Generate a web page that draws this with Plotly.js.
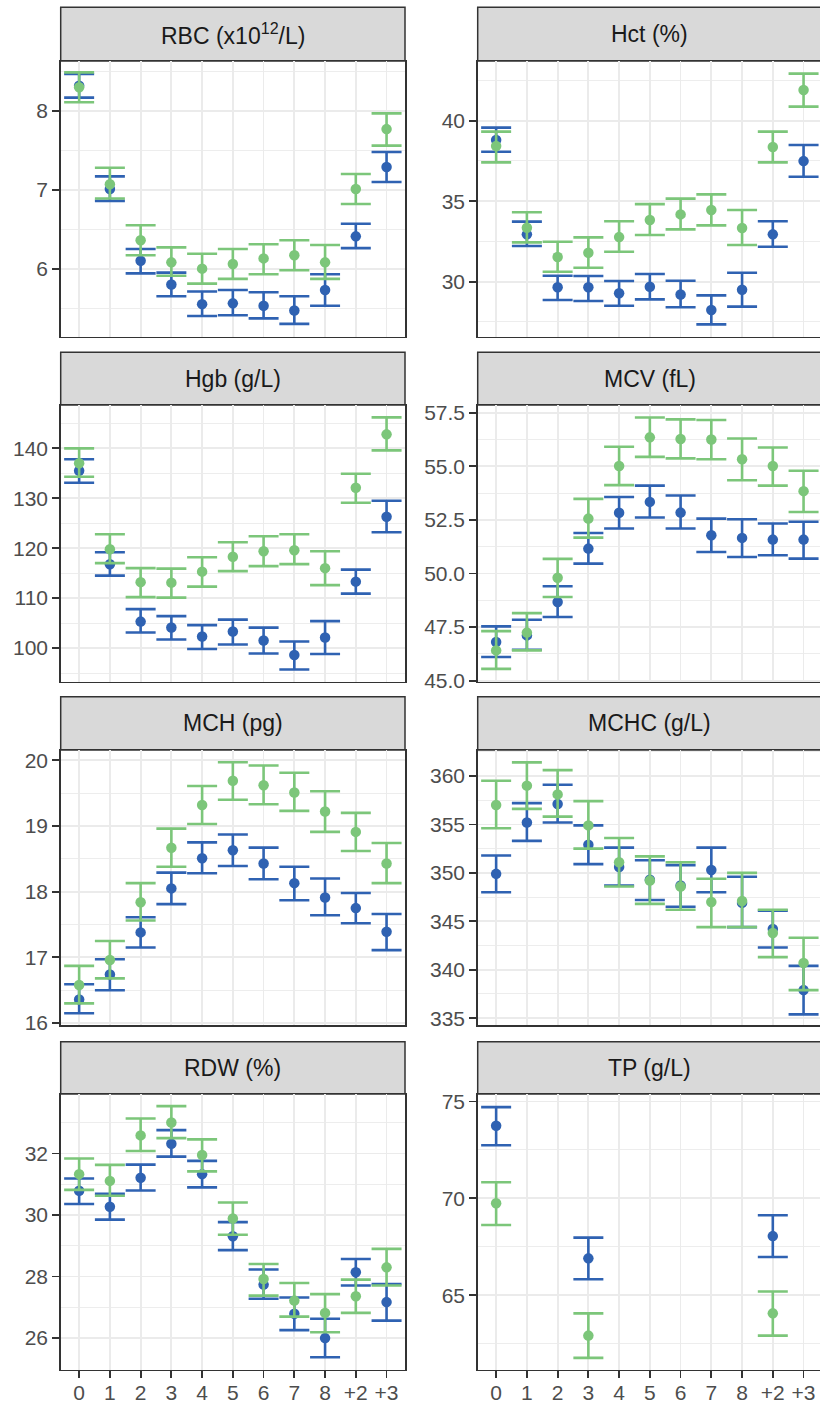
<!DOCTYPE html>
<html>
<head>
<meta charset="utf-8">
<script src="https://cdn.plot.ly/plotly-3.0.1.min.js"></script>
<style>
html,body{margin:0;padding:0;overflow:hidden;background:#fff;}
#chart{width:824px;height:1405px;}
</style>
</head>
<body>
<div id="chart"></div>
<script>
// ---------- data ----------
const categories = ["0","1","2","3","4","5","6","7","8","+2","+3"];

const rbcBlue    = [8.32, 7.01, 6.10, 5.80, 5.55, 5.56, 5.53, 5.47, 5.73, 6.41, 7.29];
const rbcBlueHi  = [8.47, 7.17, 6.25, 5.95, 5.71, 5.73, 5.70, 5.65, 5.93, 6.57, 7.48];
const rbcBlueLo  = [8.17, 6.86, 5.94, 5.65, 5.40, 5.41, 5.37, 5.30, 5.53, 6.26, 7.10];
const rbcGreen   = [8.30, 7.07, 6.36, 6.08, 6.00, 6.06, 6.13, 6.17, 6.08, 7.01, 7.77];
const rbcGreenHi = [8.49, 7.28, 6.55, 6.27, 6.19, 6.25, 6.31, 6.36, 6.30, 7.20, 7.97];
const rbcGreenLo = [8.11, 6.89, 6.17, 5.91, 5.81, 5.87, 5.93, 5.98, 5.87, 6.82, 7.56];

const hctBlue    = [38.80, 32.94, 29.65, 29.65, 29.28, 29.69, 29.21, 28.24, 29.50, 32.94, 37.49];
const hctBlueHi  = [39.57, 33.73, 30.37, 30.35, 30.04, 30.48, 30.06, 29.15, 30.56, 33.75, 38.49];
const hctBlueLo  = [38.07, 32.22, 28.86, 28.80, 28.51, 28.90, 28.41, 27.35, 28.45, 32.17, 36.52];
const hctGreen   = [38.43, 33.35, 31.53, 31.80, 32.77, 33.83, 34.18, 34.45, 33.33, 38.36, 41.90];
const hctGreenHi = [39.32, 34.31, 32.48, 32.75, 33.75, 34.82, 35.16, 35.42, 34.45, 39.32, 42.92];
const hctGreenLo = [37.41, 32.44, 30.62, 30.87, 31.86, 32.90, 33.25, 33.50, 32.28, 37.41, 40.87];

const hgbBlue    = [135.5, 116.8, 105.3, 104.1, 102.3, 103.3, 101.5, 98.6, 102.1, 113.3, 126.3];
const hgbBlueHi  = [137.8, 119.2, 107.8, 106.4, 104.6, 105.7, 104.1, 101.3, 105.4, 115.7, 129.5];
const hgbBlueLo  = [133.1, 114.5, 103.1, 101.7, 99.8, 100.7, 98.9, 95.7, 98.8, 110.9, 123.2];
const hgbGreen   = [137.0, 119.8, 113.2, 113.1, 115.3, 118.3, 119.4, 119.6, 116.0, 132.1, 142.8];
const hgbGreenHi = [140.0, 122.8, 116.0, 115.9, 118.2, 121.2, 122.4, 122.8, 119.4, 134.9, 146.2];
const hgbGreenLo = [134.3, 117.0, 110.2, 110.1, 112.3, 115.4, 116.4, 116.8, 112.6, 129.1, 139.6];

const mcvBlue    = [46.80, 47.11, 48.67, 51.16, 52.83, 53.34, 52.84, 51.78, 51.66, 51.58, 51.58];
const mcvBlueHi  = [47.53, 47.84, 49.40, 51.89, 53.57, 54.10, 53.64, 52.56, 52.53, 52.33, 52.41];
const mcvBlueLo  = [46.10, 46.44, 47.97, 50.46, 52.10, 52.61, 52.10, 51.00, 50.77, 50.85, 50.69];
const mcvGreen   = [46.41, 47.24, 49.80, 52.56, 55.01, 56.35, 56.27, 56.25, 55.33, 55.01, 53.84];
const mcvGreenHi = [47.31, 48.15, 50.68, 53.48, 55.91, 57.28, 57.19, 57.16, 56.30, 55.88, 54.79];
const mcvGreenLo = [45.55, 46.41, 48.90, 51.67, 54.12, 55.44, 55.37, 55.33, 54.35, 54.10, 52.87];

const mchBlue    = [16.36, 16.74, 17.38, 18.05, 18.51, 18.63, 18.43, 18.13, 17.91, 17.75, 17.39];
const mchBlueHi  = [16.59, 16.97, 17.61, 18.29, 18.75, 18.87, 18.67, 18.38, 18.20, 17.98, 17.66];
const mchBlueLo  = [16.15, 16.50, 17.15, 17.81, 18.28, 18.39, 18.19, 17.87, 17.64, 17.52, 17.11];
const mchGreen   = [16.58, 16.96, 17.84, 18.67, 19.32, 19.69, 19.62, 19.51, 19.22, 18.91, 18.43];
const mchGreenHi = [16.87, 17.25, 18.13, 18.96, 19.61, 19.97, 19.92, 19.81, 19.53, 19.20, 18.74];
const mchGreenLo = [16.30, 16.68, 17.56, 18.38, 19.03, 19.40, 19.33, 19.23, 18.91, 18.62, 18.13];

const mchcBlue    = [349.9, 355.2, 357.1, 352.9, 350.6, 349.3, 348.7, 350.3, 346.9, 344.2, 337.9];
const mchcBlueHi  = [351.8, 357.2, 359.1, 354.9, 352.6, 351.3, 350.8, 352.6, 349.6, 346.1, 340.4];
const mchcBlueLo  = [348.0, 353.3, 355.2, 350.9, 348.7, 347.2, 346.5, 348.0, 344.4, 342.3, 335.4];
const mchcGreen   = [357.0, 359.0, 358.1, 354.9, 351.1, 349.2, 348.6, 347.0, 347.1, 343.8, 340.7];
const mchcGreenHi = [359.5, 361.4, 360.6, 357.4, 353.6, 351.7, 351.1, 349.4, 350.0, 346.2, 343.3];
const mchcGreenLo = [354.6, 356.6, 355.8, 352.5, 348.6, 346.8, 346.2, 344.4, 344.4, 341.3, 337.9];

const rdwBlue    = [30.79, 30.27, 31.21, 32.32, 31.33, 29.31, 27.74, 26.79, 26.00, 28.14, 27.17];
const rdwBlueHi  = [31.19, 30.69, 31.64, 32.76, 31.76, 29.77, 28.23, 27.32, 26.63, 28.57, 27.76];
const rdwBlueLo  = [30.36, 29.85, 30.80, 31.90, 30.90, 28.86, 27.28, 26.26, 25.38, 27.71, 26.57];
const rdwGreen   = [31.33, 31.11, 32.59, 33.01, 31.95, 29.89, 27.92, 27.22, 26.82, 27.36, 28.30];
const rdwGreenHi = [31.84, 31.63, 33.14, 33.54, 32.46, 30.41, 28.41, 27.79, 27.43, 27.90, 28.90];
const rdwGreenLo = [30.82, 30.63, 32.08, 32.50, 31.42, 29.36, 27.38, 26.70, 26.19, 26.82, 27.71];

const tpBlue    = [73.75, null, null, 66.90, null, null, null, null, null, 68.05, null];
const tpBlueHi  = [74.71, null, null, 67.97, null, null, null, null, null, 69.13, null];
const tpBlueLo  = [72.74, null, null, 65.82, null, null, null, null, null, 66.97, null];
const tpGreen   = [69.75, null, null, 62.91, null, null, null, null, null, 64.06, null];
const tpGreenHi = [70.83, null, null, 64.06, null, null, null, null, null, 65.19, null];
const tpGreenLo = [68.62, null, null, 61.76, null, null, null, null, null, 62.91, null];

const panelTitles = ["RBC (x10<sup>12</sup>/L)", "Hct (%)", "Hgb (g/L)", "MCV (fL)",
                     "MCH (pg)", "MCHC (g/L)", "RDW (%)", "TP (g/L)"];

// ---------- layout helpers ----------
const W = 824, H = 1405;
const BLUE = "#2F62B2", GREEN = "#7CC67A";
const FONT = "Liberation Sans, Arial, Helvetica, sans-serif";

const panels = [
  {blue:[rbcBlue,rbcBlueHi,rbcBlueLo],   green:[rbcGreen,rbcGreenHi,rbcGreenLo],   range:[5.137,8.634],  dtick:1,   minor:0.5,  fmt:""},
  {blue:[hctBlue,hctBlueHi,hctBlueLo],   green:[hctGreen,hctGreenHi,hctGreenLo],   range:[26.584,43.706],dtick:5,   minor:2.5,  fmt:""},
  {blue:[hgbBlue,hgbBlueHi,hgbBlueLo],   green:[hgbGreen,hgbGreenHi,hgbGreenLo],   range:[93.26,148.68], dtick:10,  minor:5,    fmt:""},
  {blue:[mcvBlue,mcvBlueHi,mcvBlueLo],   green:[mcvGreen,mcvGreenHi,mcvGreenLo],   range:[44.95,57.86],  dtick:2.5, minor:1.25, fmt:".1f"},
  {blue:[mchBlue,mchBlueHi,mchBlueLo],   green:[mchGreen,mchGreenHi,mchGreenLo],   range:[15.97,20.157], dtick:1,   minor:0.5,  fmt:""},
  {blue:[mchcBlue,mchcBlueHi,mchcBlueLo],green:[mchcGreen,mchcGreenHi,mchcGreenLo],range:[334.3,362.68], dtick:5,   minor:2.5,  fmt:""},
  {blue:[rdwBlue,rdwBlueHi,rdwBlueLo],   green:[rdwGreen,rdwGreenHi,rdwGreenLo],   range:[24.98,33.935], dtick:2,   minor:1,    fmt:""},
  {blue:[tpBlue,tpBlueHi,tpBlueLo],      green:[tpGreen,tpGreenHi,tpGreenLo],      range:[61.16,75.39],  dtick:5,   minor:2.5,  fmt:""}
];

// pixel geometry of facets
const colX = [[60.7, 405], [477.7, 822]];
const rowY = [  // [stripTop, plotTop, plotBottom]
  [7.3, 61, 336.7],
  [352.3, 405, 681.7],
  [696.7, 750, 1025],
  [1041.7, 1094, 1369.5]
];
const px2x = p => p / W;
const px2y = p => 1 - p / H;

const traces = [];
const layout = {
  width: W, height: H,
  margin: {l:0, r:0, t:0, b:0},
  paper_bgcolor: "#ffffff",
  plot_bgcolor: "#ffffff",
  showlegend: false,
  font: {family: FONT, color: "#4D4D4D", size: 21},
  shapes: [],
  annotations: []
};

function errArr(mean, hi, lo) {
  return {
    type: "data", symmetric: false,
    array: mean.map((m,i) => m == null ? null : hi[i] - m),
    arrayminus: mean.map((m,i) => m == null ? null : m - lo[i])
  };
}

panels.forEach((p, k) => {
  const row = Math.floor(k / 2), col = k % 2;
  const idx = k + 1;
  const xa = "x" + (idx === 1 ? "" : idx), ya = "y" + (idx === 1 ? "" : idx);
  const xKey = "xaxis" + (idx === 1 ? "" : idx), yKey = "yaxis" + (idx === 1 ? "" : idx);
  const [x0, x1] = colX[col];
  const [sTop, pTop, pBot] = rowY[row];
  const bottomRow = row === 3;

  [["blue", BLUE], ["green", GREEN]].forEach(([key, color]) => {
    const [m, hi, lo] = p[key];
    const e = errArr(m, hi, lo);
    traces.push({
      type: "scatter", mode: "markers",
      x: categories, y: m,
      xaxis: xa, yaxis: ya,
      marker: {color: color, size: 10.5},
      error_y: Object.assign(e, {color: color, thickness: 2.6, width: 15}),
      hoverinfo: "x+y"
    });
  });

  layout[xKey] = {
    domain: [px2x(x0), px2x(x1)],
    anchor: ya,
    type: "category",
    categoryorder: "array", categoryarray: categories,
    range: [-0.6, 10.6],
    showgrid: true, gridcolor: "#EBEBEB", gridwidth: 1.8,
    zeroline: false,
    showline: true, mirror: true, linecolor: "#333333", linewidth: 1.5,
    ticks: bottomRow ? "outside" : "",
    ticklen: 7, tickwidth: 1.8, tickcolor: "#333333",
    showticklabels: bottomRow,
    ticklabelstandoff: -3,
    tickfont: {family: FONT, size: 21, color: "#4D4D4D"},
    fixedrange: true
  };
  layout[yKey] = {
    domain: [px2y(pBot), px2y(pTop)],
    anchor: xa,
    range: p.range,
    tick0: 0, dtick: p.dtick,
    tickformat: p.fmt,
    showgrid: true, gridcolor: "#EBEBEB", gridwidth: 1.8,
    minor: {dtick: p.minor, tick0: 0, showgrid: true, gridcolor: "#EBEBEB", gridwidth: 0.9, ticks: ""},
    zeroline: false,
    showline: true, mirror: true, linecolor: "#333333", linewidth: 1.5,
    ticks: "outside", ticklen: 7, tickwidth: 1.8, tickcolor: "#333333",
    tickfont: {family: FONT, size: 21, color: "#4D4D4D"},
    fixedrange: true
  };

  // strip
  layout.shapes.push({
    type: "rect", xref: "paper", yref: "paper",
    x0: px2x(x0), x1: px2x(x1), y0: px2y(pTop), y1: px2y(sTop),
    fillcolor: "#D9D9D9", line: {color: "#333333", width: 1.5}, layer: "below"
  });
  layout.annotations.push({
    xref: "paper", yref: "paper",
    x: px2x((x0 + x1) / 2), y: px2y((sTop + pTop) / 2),
    xanchor: "center", yanchor: "middle",
    text: panelTitles[k], showarrow: false,
    font: {family: FONT, size: 23, color: "#1A1A1A"}
  });
});

Plotly.newPlot("chart", traces, layout, {displayModeBar: false, staticPlot: true});
</script>
</body>
</html>
